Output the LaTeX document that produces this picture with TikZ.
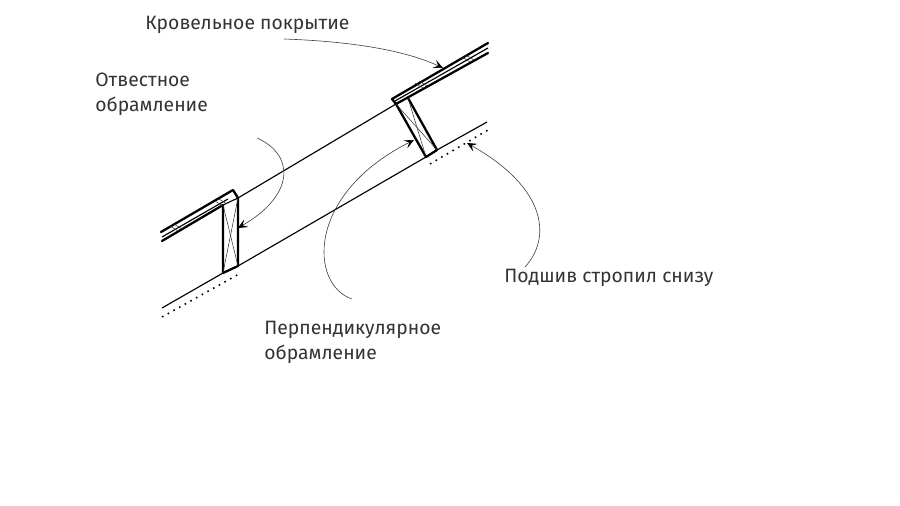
\documentclass[tikz,border=0pt]{standalone}
\usepackage{fontspec}
\setmainfont{Fira Sans}
\usepackage{xcolor}
\usepackage{tikz}
\usetikzlibrary{arrows.meta}
\definecolor{labeltext}{HTML}{333333}
\tikzset{
  thickline/.style={line width=1.3pt, black, line cap=round, line join=round},
  midline/.style={line width=0.65pt, black},
  thinline/.style={line width=0.3pt, black!80},
  leader/.style={line width=0.35pt, black!75, -{Stealth[length=5.5pt,width=5pt,inset=2.5pt,color=black]}},
  dots/.style={line width=0.9pt, dash pattern=on 0.9pt off 2.8pt},
  label/.style={font=\fontsize{11pt}{14.2pt}\selectfont, text=labeltext, anchor=north west, inner sep=0pt, align=left}
}
\begin{document}
\begin{tikzpicture}[x=0.02cm, y=-0.02cm]
\useasboundingbox (0,0) rectangle (900,506);

% left end of the roof
\coordinate (Lt) at (161,232);
\coordinate (Lm) at (162,237);
\coordinate (Lb) at (162,241);
% left block
\coordinate (A) at (233,190);
\coordinate (B) at (238,198);
\coordinate (C) at (238,266);
\coordinate (D) at (223,273);
\coordinate (E) at (223,205);
% right end of the roof
\coordinate (Rt) at (488,43);
\coordinate (Rm) at (488,48);
\coordinate (Rb) at (488,53);
% right block
\coordinate (F) at (392,99);
\coordinate (G) at (396,104);
\coordinate (H) at (408,98);
\coordinate (I) at (437,150);
\coordinate (J) at (426,157);
% underside
\coordinate (Ua) at (162,308);
\coordinate (Ub) at (487,122);

\draw[thickline] (Lt) -- (A) -- (B);
\draw[thickline] (Lb) -- (E);
\draw[midline] (Lm) -- (228,199);
\draw[thickline] (E) -- (D) -- (C) -- (B);
\draw[midline] (E) -- (B);
\draw[thinline] (E) -- (C);
\draw[thinline] (B) -- (D);

\draw[thickline] (Rt) -- (F) -- (G) -- (Rb);
\draw[midline] (Rm) -- (395,101);
\draw[thickline] (G) -- (J) -- (I) -- (H);
\draw[thinline] (H) -- (J);
\draw[thinline] (G) -- (I);

% rafter
\draw[midline] (B) -- (G);
\draw[midline] (Ua) -- (D);
\draw[midline] (C) -- (J);
\draw[midline] (I) -- (Ub);

% small marks on the roof
\foreach \x/\y in {170/226, 174/224, 215/201, 219/199, 415/83, 419/81, 462/57, 466/55} \draw[thinline] (\x,\y) -- ++(8,5);

% dotted lines
\draw[dots] (162,317) -- (239,274);
\draw[dots] (430,164) -- (488,130);

% labels
\node[label] (roof) at (145,16) {Кровельное покрытие};
\node[label] (plumb) at (95,73) {Отвестное\\обрамление};
\node[label] (perp) at (264,321) {Перпендикулярное\\обрамление};
\node[label] (soffit) at (504,269) {Подшив стропил снизу};

% leaders
\coordinate (roofstart) at (284,39);
\coordinate (roofend) at (443,68);
\coordinate (plumbstart) at (257,138);
\coordinate (plumbend) at (238,228);
\coordinate (perpstart) at (352,299);
\coordinate (perpend) at (414,140);
\coordinate (soffitstart) at (525,267);
\coordinate (soffitend) at (467,143);

\draw[leader] (roofstart) .. controls (340,41) and (400,48) .. (roofend);
\draw[leader] (plumbstart) .. controls (295,155) and (295,195) .. (plumbend);
\draw[leader] (perpstart) .. controls (310,285) and (305,195) .. (perpend);
\draw[leader] (soffitstart) .. controls (550,240) and (550,190) .. (soffitend);
\end{tikzpicture}
\end{document}
